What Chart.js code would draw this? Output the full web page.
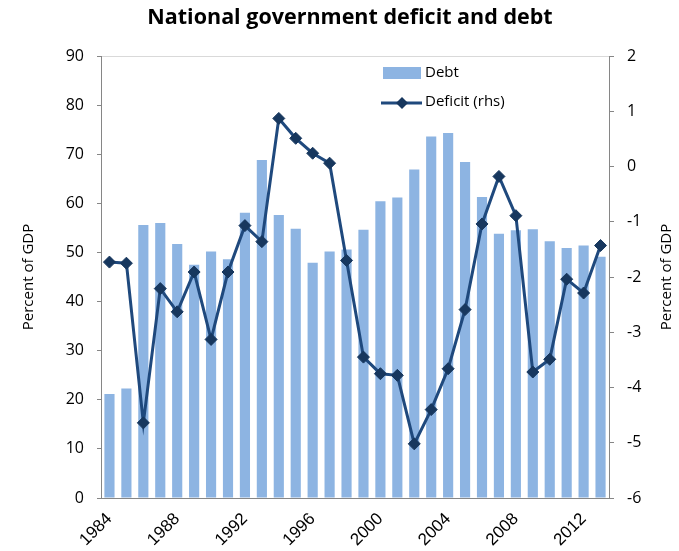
<!DOCTYPE html>
<html>
<head>
<meta charset="utf-8">
<script src="https://cdn.jsdelivr.net/npm/chart.js@4/dist/chart.umd.min.js"></script>
<style>
  html, body { margin: 0; padding: 0; background: #fff; }
  #wrap { width: 679px; height: 551px; }
</style>
</head>
<body>
<div id="wrap"><canvas id="myChart" width="679" height="551"></canvas></div>
<script>
const years = ['1984', '1985', '1986', '1987', '1988', '1989', '1990', '1991', '1992', '1993',
    '1994', '1995', '1996', '1997', '1998', '1999', '2000', '2001', '2002', '2003',
    '2004', '2005', '2006', '2007', '2008', '2009', '2010', '2011', '2012', '2013'];

// debt, percent of GDP (left axis)
const debt = [21.2, 22.3, 55.6, 56.0, 51.7, 47.5, 50.2, 48.6, 58.1, 68.8,
    57.6, 54.8, 47.9, 50.2, 50.6, 54.6, 60.4, 61.2, 66.9, 73.6,
    74.3, 68.4, 61.3, 53.8, 54.5, 54.7, 52.3, 50.9, 51.4, 49.1];

// deficit, percent of GDP (right axis)
const deficit = [-1.73, -1.75, -4.64, -2.21, -2.63, -1.91, -3.13, -1.91, -1.07, -1.36,
    0.87, 0.51, 0.24, 0.06, -1.70, -3.45, -3.75, -3.78, -5.02, -4.40,
    -3.66, -2.59, -1.04, -0.18, -0.89, -3.72, -3.49, -2.04, -2.29, -1.43];

const chartTitle = 'National government deficit and debt';
const axisTitle = 'Percent of GDP';

const barColor = '#8db4e2';
const lineColor = '#1f497d';
const markerColor = '#17375e';
const axisColor = '#868686';
const font = 'Open Sans';

// title, right axis title (reads bottom to top like the left one) and
// the legend, which sits inside the plot area with one item per row
const extras = {
    id: 'extras',
    afterDraw(chart) {
        const ctx = chart.ctx;
        const area = chart.chartArea;
        const barSet = chart.data.datasets.find(d => d.type === 'bar');
        const lineSet = chart.data.datasets.find(d => d.type === 'line');
        ctx.save();
        ctx.fillStyle = '#000';
        ctx.textAlign = 'center';
        ctx.textBaseline = 'middle';
        ctx.font = 'bold 21.5px "' + font + '"';
        ctx.fillText(chartTitle, 350, 18);

        ctx.save();
        ctx.translate(667, (area.top + area.bottom) / 2);
        ctx.rotate(-Math.PI / 2);
        ctx.font = '15px "' + font + '"';
        ctx.fillText(axisTitle, 0, 0);
        ctx.restore();

        ctx.textAlign = 'left';
        ctx.font = '15px "' + font + '"';

        // bar item
        ctx.fillStyle = barColor;
        ctx.fillRect(383, 67, 38, 12);
        ctx.fillStyle = '#000';
        ctx.fillText(barSet.label, 425, 73);

        // line item
        ctx.strokeStyle = lineColor;
        ctx.lineWidth = 3;
        ctx.beginPath();
        ctx.moveTo(381, 103);
        ctx.lineTo(422, 103);
        ctx.stroke();
        ctx.fillStyle = markerColor;
        ctx.beginPath();
        ctx.moveTo(402, 97);
        ctx.lineTo(408, 103);
        ctx.lineTo(402, 109);
        ctx.lineTo(396, 103);
        ctx.closePath();
        ctx.fill();
        ctx.fillStyle = '#000';
        ctx.fillText(lineSet.label, 425, 102);
        ctx.restore();
    }
};

const ctx = document.getElementById('myChart').getContext('2d');

const comboChart = new Chart(ctx, {
    type: 'bar',
    data: {
        labels: years,
        datasets: [{
            type: 'line',
            label: 'Deficit (rhs)',
            data: deficit,
            yAxisID: 'y2',
            borderColor: lineColor,
            borderWidth: 3,
            pointStyle: 'rectRot',
            pointRadius: 6,
            pointBackgroundColor: markerColor,
            pointBorderColor: markerColor,
            pointBorderWidth: 1,
            tension: 0,
            order: 0,
        }, {
            type: 'bar',
            label: 'Debt',
            data: debt,
            yAxisID: 'y',
            backgroundColor: barColor,
            categoryPercentage: 1,
            barPercentage: 0.6,
            order: 1,
        }],
    },
    options: {
        responsive: false,
        animation: false,
        layout: { padding: { top: 56 } },
        plugins: {
            legend: { display: false },
            title: { display: false },
            tooltip: { enabled: false },
        },
        scales: {
            x: {
                offset: true,
                grid: { display: false },
                border: { display: true, color: axisColor, width: 1 },
                ticks: {
                    autoSkip: false,
                    maxRotation: 45,
                    minRotation: 45,
                    color: '#000',
                    padding: 3,
                    font: { family: 'Liberation Sans', size: 17 },
                    callback: function (value) {
                        const yr = this.getLabelForValue(value);
                        return Number(yr) % 4 === 0 ? yr : '';
                    },
                },
                afterFit: (s) => { s.height = 53; },
            },
            y: {
                position: 'left',
                min: 0,
                max: 90,
                ticks: { stepSize: 10, color: '#000', padding: 13, font: { family: font, size: 16 } },
                grid: {
                    color: (c) => c.tick && c.tick.value === 90 ? '#d9d9d9' : 'rgba(0,0,0,0)',
                    tickColor: axisColor,
                    tickLength: 4,
                },
                border: { display: true, color: axisColor, width: 1 },
                title: {
                    display: true,
                    text: axisTitle,
                    color: '#000',
                    font: { family: font, size: 15, lineHeight: 1.2 },
                    padding: { top: 20, bottom: 0 },
                },
                afterFit: (s) => { s.width = 101; },
            },
            y2: {
                position: 'right',
                min: -6,
                max: 2,
                ticks: { stepSize: 1, color: '#000', padding: 13, font: { family: font, size: 16 } },
                grid: { drawOnChartArea: false, color: axisColor, tickLength: 5 },
                border: { display: true, color: axisColor, width: 1 },
                afterFit: (s) => { s.width = 70; },
            },
        },
    },
    plugins: [extras],
});
</script>
</body>
</html>
